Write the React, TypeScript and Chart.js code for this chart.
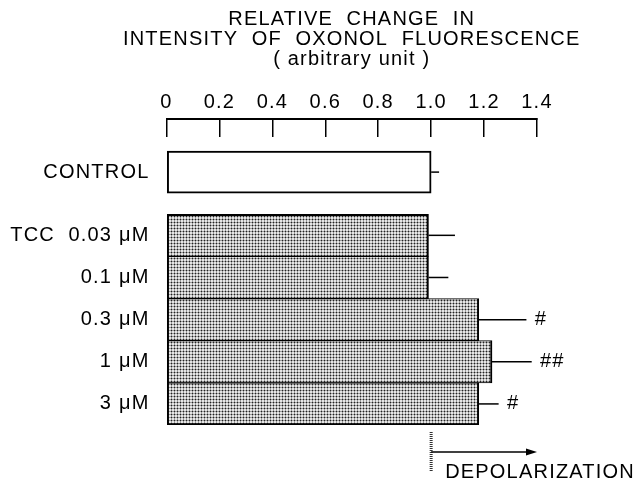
import React, { useEffect, useRef } from 'react';
import { Chart, registerables } from 'chart.js';

Chart.register(...registerables);

// ---- data ----
const categories = ['CONTROL', 'TCC  0.03 μM', '0.1 μM', '0.3 μM', '1 μM', '3 μM'];
const rowPositions = [0, 1.5, 2.5, 3.5, 4.5, 5.5];
const means = [1.0, 0.99, 0.99, 1.18, 1.23, 1.18];
const errors = [0.03, 0.1, 0.075, 0.18, 0.15, 0.075];
const significance = ['', '', '', '#', '##', '#'];
const xTickValues = [0, 0.2, 0.4, 0.6, 0.8, 1.0, 1.2, 1.4];
const xTickLabels = ['0', '0.2', '0.4', '0.6', '0.8', '1.0', '1.2', '1.4'];
const titleLines = ['RELATIVE  CHANGE  IN', 'INTENSITY  OF  OXONOL  FLUORESCENCE', '( arbitrary unit )'];
const arrowLabel = 'DEPOLARIZATION';
const arrowFrom = 1.0;
const arrowTo = 1.4;

const FONT = '"Liberation Sans", Arial, Helvetica, sans-serif';
const SPACING = '1.2px';

function makePattern(): CanvasPattern | string {
  const c = document.createElement('canvas');
  c.width = 3;
  c.height = 3;
  const g = c.getContext('2d');
  if (!g) return '#b0b0b0';
  g.fillStyle = '#e6e6e6';
  g.fillRect(0, 0, 3, 3);
  g.fillStyle = '#9a9a9a';
  g.fillRect(0, 0, 1, 3);
  g.fillRect(0, 0, 3, 1);
  g.fillStyle = '#222';
  g.fillRect(0, 0, 1, 1);
  const p = g.createPattern(c, 'repeat');
  return p || '#b0b0b0';
}

const spacingPlugin = {
  id: 'letterSpacing',
  beforeLayout(chart: any) {
    chart.ctx.letterSpacing = SPACING;
  },
  beforeDraw(chart: any) {
    chart.ctx.letterSpacing = SPACING;
  },
};

const titlePlugin = {
  id: 'centeredTitle',
  afterDraw(chart: any) {
    const ctx = chart.ctx;
    const { left, right } = chart.chartArea;
    const cx = (left + right) / 2;
    ctx.save();
    ctx.fillStyle = '#000';
    ctx.font = `20px ${FONT}`;
    ctx.textAlign = 'center';
    ctx.textBaseline = 'middle';
    titleLines.forEach((line, i) => {
      ctx.fillText(line, cx, 19 + i * 20);
    });
    ctx.restore();
  },
};

const errorPlugin = {
  id: 'errorBars',
  afterDatasetsDraw(chart: any) {
    const ctx = chart.ctx;
    const xs = chart.scales.x;
    const meta = chart.getDatasetMeta(0);
    ctx.save();
    ctx.strokeStyle = '#000';
    ctx.fillStyle = '#000';
    ctx.lineWidth = 1.5;
    meta.data.forEach((el: any, i: number) => {
      const x1 = xs.getPixelForValue(means[i]);
      const x2 = xs.getPixelForValue(means[i] + errors[i]);
      ctx.beginPath();
      ctx.moveTo(x1, el.y);
      ctx.lineTo(x2, el.y);
      ctx.stroke();
      if (significance[i]) {
        ctx.font = `italic 20px ${FONT}`;
        ctx.textAlign = 'left';
        ctx.textBaseline = 'middle';
        ctx.fillText(significance[i], x2 + 8, el.y);
      }
    });
    ctx.restore();
  },
};

const arrowPlugin = {
  id: 'depolArrow',
  afterDraw(chart: any) {
    const ctx = chart.ctx;
    const xs = chart.scales.x;
    const b = chart.chartArea.bottom;
    const xa = xs.getPixelForValue(arrowFrom);
    const xb = xs.getPixelForValue(arrowTo);
    ctx.save();
    ctx.strokeStyle = '#333';
    ctx.lineWidth = 3;
    ctx.setLineDash([1, 1]);
    ctx.beginPath();
    ctx.moveTo(xa, b + 7);
    ctx.lineTo(xa, b + 47);
    ctx.stroke();
    ctx.setLineDash([]);
    const ay = b + 27;
    ctx.strokeStyle = '#000';
    ctx.fillStyle = '#000';
    ctx.lineWidth = 1.5;
    ctx.beginPath();
    ctx.moveTo(xa, ay);
    ctx.lineTo(xb - 8, ay);
    ctx.stroke();
    ctx.beginPath();
    ctx.moveTo(xb, ay);
    ctx.lineTo(xb - 11, ay - 3.5);
    ctx.lineTo(xb - 11, ay + 3.5);
    ctx.closePath();
    ctx.fill();
    ctx.font = `20px ${FONT}`;
    ctx.textAlign = 'left';
    ctx.textBaseline = 'middle';
    ctx.fillText(arrowLabel, xa + 14, b + 47);
    ctx.restore();
  },
};

export default function App() {
  const ref = useRef<HTMLCanvasElement | null>(null);

  useEffect(() => {
    if (!ref.current) return;
    const pattern = makePattern();
    const last = means.length - 1;
    const chart = new Chart(ref.current, {
      type: 'bar',
      data: {
        datasets: [
          {
            data: rowPositions.map((p, i) => ({ x: means[i], y: p })),
            backgroundColor: means.map((_, i) => (i === 0 ? '#ffffff' : pattern)),
            borderColor: '#000',
            borderWidth: (c: any) => {
              const i = c.dataIndex;
              if (i === 0) return 2;
              return { left: 2, right: 2, top: i === 1 ? 2 : 1, bottom: i === last ? 2 : 1 };
            },
            borderSkipped: false,
            barPercentage: 1,
            categoryPercentage: 1,
            xAxisID: 'x',
            yAxisID: 'y',
          } as any,
        ],
      },
      options: {
        indexAxis: 'y',
        responsive: false,
        animation: false,
        devicePixelRatio: 1,
        layout: { padding: { left: 0, right: 107, top: 68, bottom: 61 } },
        plugins: {
          legend: { display: false },
          tooltip: { enabled: false },
          title: { display: false },
        },
        scales: {
          x: {
            type: 'linear',
            position: 'top',
            min: 0,
            max: 1.4,
            offset: false,
            afterBuildTicks: (s: any) => {
              s.ticks = xTickValues.map((v) => ({ value: v }));
            },
            afterFit: (s: any) => {
              s.height = 51;
              s.paddingLeft = 0;
              s.paddingRight = 0;
            },
            ticks: {
              callback: (_v: any, i: number) => xTickLabels[i],
              color: '#000',
              font: { family: FONT, size: 20, lineHeight: 1.2 },
              padding: 23,
              autoSkip: false,
              maxRotation: 0,
            },
            grid: {
              display: true,
              offset: false,
              drawOnChartArea: false,
              drawTicks: true,
              tickLength: -18,
              color: '#000',
              lineWidth: 1.5,
            },
            border: { display: true, color: '#000', width: 2 },
          },
          y: {
            type: 'linear',
            position: 'left',
            reverse: true,
            offset: false,
            min: -1.26,
            max: 6,
            afterBuildTicks: (s: any) => {
              s.ticks = rowPositions.map((v) => ({ value: v }));
            },
            afterFit: (s: any) => {
              s.width = 166.5;
              s.paddingTop = 0;
              s.paddingBottom = 0;
            },
            ticks: {
              callback: (_v: any, i: number) => categories[i],
              color: '#000',
              font: { family: FONT, size: 20, lineHeight: 1.2 },
              padding: 0,
              autoSkip: false,
            },
            grid: { display: false, offset: false, drawTicks: true, tickLength: 17 },
            border: { display: false },
          },
        },
      } as any,
      plugins: [spacingPlugin, titlePlugin, errorPlugin, arrowPlugin],
    });
    return () => chart.destroy();
  }, []);

  return (
    <div style={{ position: 'fixed', left: 0, top: 0, width: 644, height: 486, background: '#fff' }}>
      <canvas ref={ref} width={644} height={486} style={{ display: 'block', width: 644, height: 486 }} />
    </div>
  );
}
